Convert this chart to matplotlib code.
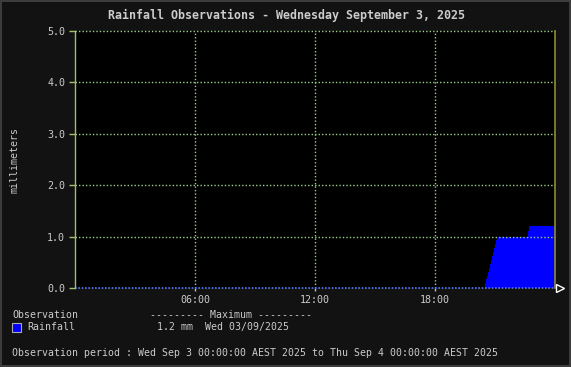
import matplotlib
matplotlib.use("Agg")
import matplotlib.pyplot as plt
import matplotlib.patches as mpatches
import numpy as np

W, H = 571, 367
MONO = "DejaVu Sans Mono"
TXT = "#cccccc"
GRID = "#9ccf8a"

# rainfall series (hours since midnight, mm), step-post
hours = [0.0, 20.50, 20.55, 20.60, 20.65, 20.70, 20.75, 20.80, 20.85, 20.90,
         20.95, 21.00, 21.05, 21.10, 22.63, 22.68, 24.0]
rain_mm = [0.0, 0.10, 0.17, 0.24, 0.31, 0.38, 0.46, 0.54, 0.62, 0.70,
           0.78, 0.86, 0.94, 1.0, 1.1, 1.2, 1.2]

x_ticks = [6, 12, 18]
x_labels = ["06:00", "12:00", "18:00"]
y_ticks = [0, 1, 2, 3, 4, 5]
y_labels = ["0.0", "1.0", "2.0", "3.0", "4.0", "5.0"]

title = "Rainfall Observations - Wednesday September 3, 2025"
legend_head = "Observation"
legend_max = "--------- Maximum ---------"
series_name = "Rainfall"
max_text = "1.2 mm  Wed 03/09/2025"
period = ("Observation period : Wed Sep 3 00:00:00 AEST 2025 to "
          "Thu Sep 4 00:00:00 AEST 2025")


def px(x, y):
    return x / W, 1 - y / H


fig = plt.figure(figsize=(W / 100, H / 100), dpi=100, facecolor="#3c3c3c")
fig.patches.append(mpatches.Rectangle(px(2, 365), 567 / W, 363 / H,
                                      transform=fig.transFigure,
                                      facecolor="#121212", edgecolor="none",
                                      zorder=-5))

ax = fig.add_axes([75 / W, 1 - 288 / H, 480 / W, 257 / H])
ax.set_facecolor("black")
ax.set_xlim(0, 24)
ax.set_ylim(0, 5)

ax.fill_between(hours, rain_mm, step="post", color="#0000ff", lw=0, zorder=2)

for y in y_ticks[1:]:
    ax.axhline(y, color=GRID, lw=1, ls=(0, (1, 1.5)), zorder=3, clip_on=False)
for x in x_ticks:
    ax.axvline(x, color=GRID, lw=1, ls=(0, (1, 1.5)), zorder=3)
ax.axhline(0, color="#5577ff", lw=1.2, ls=(0, (1, 1)), zorder=4, clip_on=False)

for s in ax.spines.values():
    s.set_visible(False)
ax.axvline(0, color="#a2c06a", lw=1, zorder=5, clip_on=False)
ax.axvline(24, color="#8c8c32", lw=1.2, zorder=5, clip_on=False)
ax.plot([24.25], [0], marker=">", ms=6, mfc="none", mec="white", mew=1,
        clip_on=False, zorder=6)

ax.set_yticks(y_ticks)
ax.set_yticklabels(y_labels)
ax.set_xticks(x_ticks)
ax.set_xticklabels(x_labels)
ax.tick_params(axis="y", colors="#a2c06a", labelcolor=TXT, length=4, width=1,
               pad=3, labelsize=7.2)
ax.tick_params(axis="x", colors="#bbbbbb", labelcolor=TXT, length=2, width=1,
               direction="out", pad=3, labelsize=7.2)
for lab in ax.get_xticklabels() + ax.get_yticklabels():
    lab.set_family(MONO)

fig.text(*px(286, 15), title, family=MONO, weight="bold", fontsize=8.4,
         color=TXT, ha="center", va="center")
fig.text(*px(14, 160), "millimeters", family=MONO, fontsize=7.1, color=TXT,
         rotation=90, ha="center", va="center")

fig.text(*px(12, 315), legend_head, family=MONO, fontsize=7.1, color=TXT,
         va="center")
fig.text(*px(150, 315), legend_max, family=MONO, fontsize=7.1, color=TXT,
         va="center")
fig.patches.append(mpatches.Rectangle(px(12, 332), 9 / W, 9 / H,
                                      transform=fig.transFigure,
                                      facecolor="#0000ff", edgecolor="#aaaaaa",
                                      lw=0.8, zorder=5))
fig.text(*px(27, 327), series_name, family=MONO, fontsize=7.1, color=TXT,
         va="center")
fig.text(*px(157, 327), max_text, family=MONO, fontsize=7.1, color=TXT,
         va="center")
fig.text(*px(12, 353), period, family=MONO, fontsize=7.1, color=TXT,
         va="center")

fig.savefig("out.png", dpi=100, facecolor=fig.get_facecolor())
